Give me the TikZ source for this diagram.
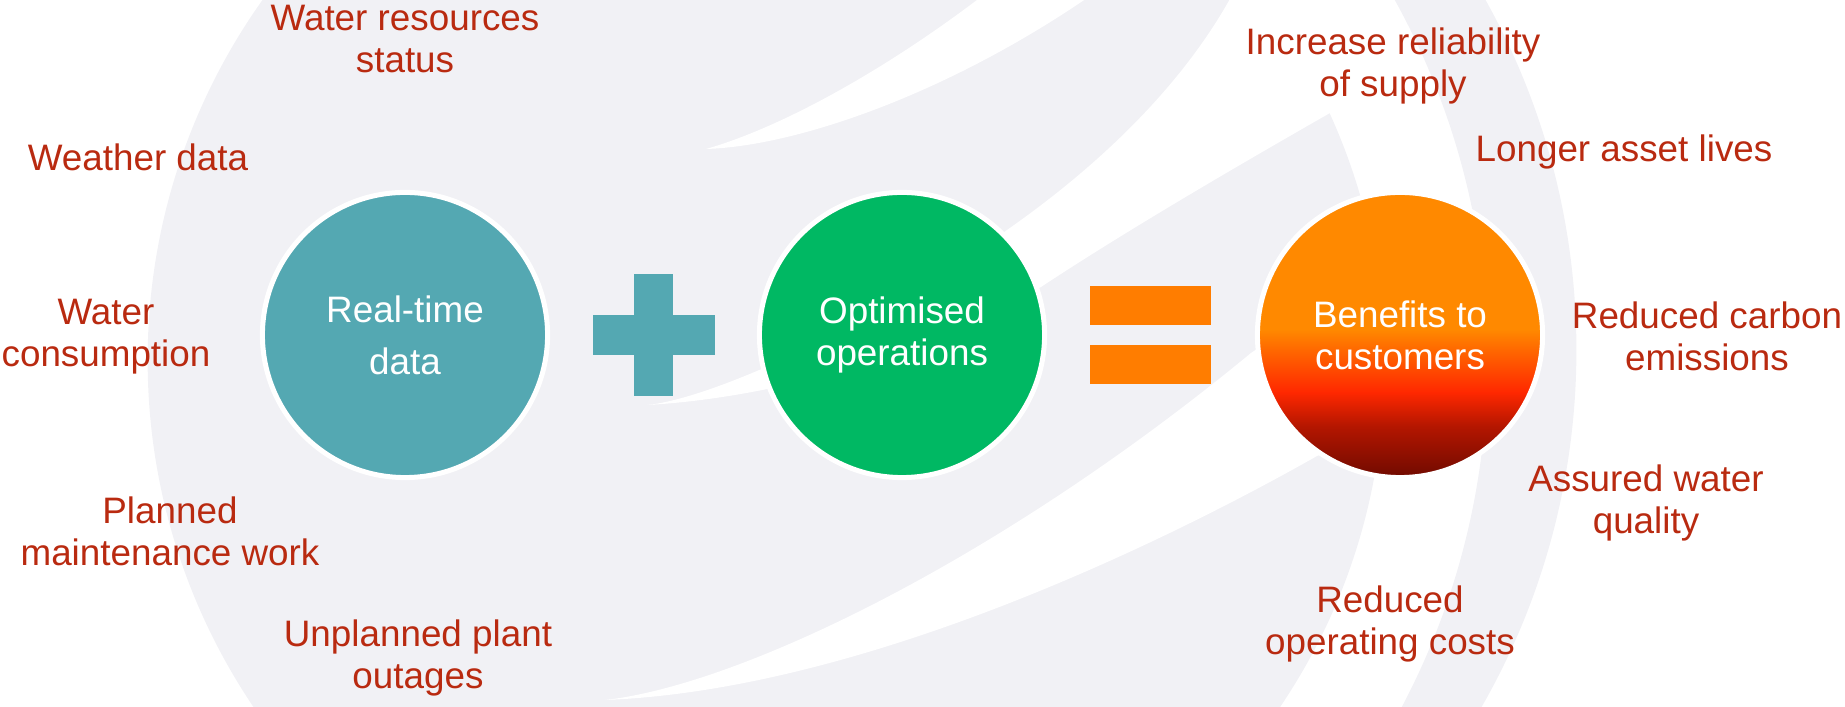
\documentclass[tikz,border=0pt]{standalone}
\usepackage{fontspec}
\setmainfont{Liberation Sans}
\usepackage{tikz}
\usetikzlibrary{calc}
\usetikzlibrary{positioning}

\definecolor{bggray}{RGB}{241,241,245}
\definecolor{infored}{RGB}{185,42,16}
\definecolor{tealc}{RGB}{84,168,178}
\definecolor{greenc}{RGB}{0,184,99}
\definecolor{signorange}{RGB}{255,125,0}
\definecolor{benorange}{RGB}{255,137,0}
\definecolor{benmid}{RGB}{255,100,0}
\definecolor{benred}{RGB}{255,40,0}
\definecolor{bendark}{RGB}{180,22,0}
\definecolor{benbottom}{RGB}{112,10,0}
\pgfdeclareverticalshading{benefitshade}{100bp}{color(0bp)=(benbottom); color(25bp)=(benbottom); color(34bp)=(bendark); color(40bp)=(benred); color(47bp)=(benmid); color(51bp)=(benorange); color(100bp)=(benorange)}

\begin{document}
\begin{tikzpicture}[x=0.01cm, y=-0.01cm,
  info/.style={text=infored, align=center, inner sep=0pt, font=\fontsize{10.47}{11.95}\selectfont},
  hub/.style={circle, draw=white, line width=0.05cm, minimum size=2.85cm, inner sep=0pt, text=white, align=center, font=\fontsize{10.47}{11.95}\selectfont}]
\useasboundingbox (0,0) rectangle (1845,707);

% background disc with swooshes
\begin{scope}
\clip (0,0) rectangle (1845,707);
\begin{scope}
\clip (0,0) rectangle (772,707);
\fill[bggray] (769,360) circle[radius=6.21cm];
\end{scope}
\begin{scope}
\clip (768,0) rectangle (1845,707);
\fill[bggray] (775,366) circle[radius=6.09cm];
\end{scope}
\fill[white] (706,149) .. controls (790,125) and (900,60) .. (990,-10)
  -- (1110,-18) .. controls (960,90) and (800,146) .. (706,149) -- cycle;
\fill[white] (647,405) .. controls (720,398) and (900,310) .. (1007,230)
  .. controls (1100,165) and (1190,80) .. (1240,-20)
  -- (1395,-20) -- (1395,76)
  .. controls (1300,130) and (1150,215) .. (1041,287)
  .. controls (900,370) and (740,400) .. (647,405) -- cycle;
\fill[white] (605,700) .. controls (740,685) and (1000,560) .. (1251,353)
  -- (1330,300) -- (1360,440) -- (1317,456)
  .. controls (1160,545) and (860,690) .. (605,700) -- cycle;
\begin{scope}
\clip (1300,0) rectangle (1845,707);
\fill[bggray, even odd rule] (858,350) circle[radius=7.18cm] (743,360) circle[radius=7.44cm];
\end{scope}
\end{scope}

% plus and equals
\fill[tealc] (634,274) rectangle (673,396);
\fill[tealc] (593,315) rectangle (715,355);
\fill[signorange] (1090,286) rectangle (1211,325);
\fill[signorange] (1090,345) rectangle (1211,384);

\node[hub, fill=tealc] (RT) at (405,335) {Real-time\\[2.85pt]data};
\node[hub, fill=greenc] (OP) at (902,335) {Optimised\\operations};
\node[hub, shading=benefitshade] (BC) at (1400,335) {Benefits to\\customers};

\node[info] (WRS) at (405,39) {Water resources\\status};
\node[info] (WD) at (138,157) {Weather data};
\node[info] (WC) at (106,337) {Water\\consumption};
\node[info] (PM) at (170,531) {Planned\\maintenance work};
\node[info] (UP) at (418,658) {Unplanned plant\\outages};

\node[info] (IR) at (1393,66) {Increase reliability\\of supply};
\node[info] (LA) at (1624,152) {Longer asset lives};
\node[info] (RC) at (1707,336) {Reduced carbon\\emissions};
\node[info] (AW) at (1646,503) {Assured water\\quality};
\node[info] (RO) at (1390,624) {Reduced\\operating costs};
\end{tikzpicture}
\end{document}
